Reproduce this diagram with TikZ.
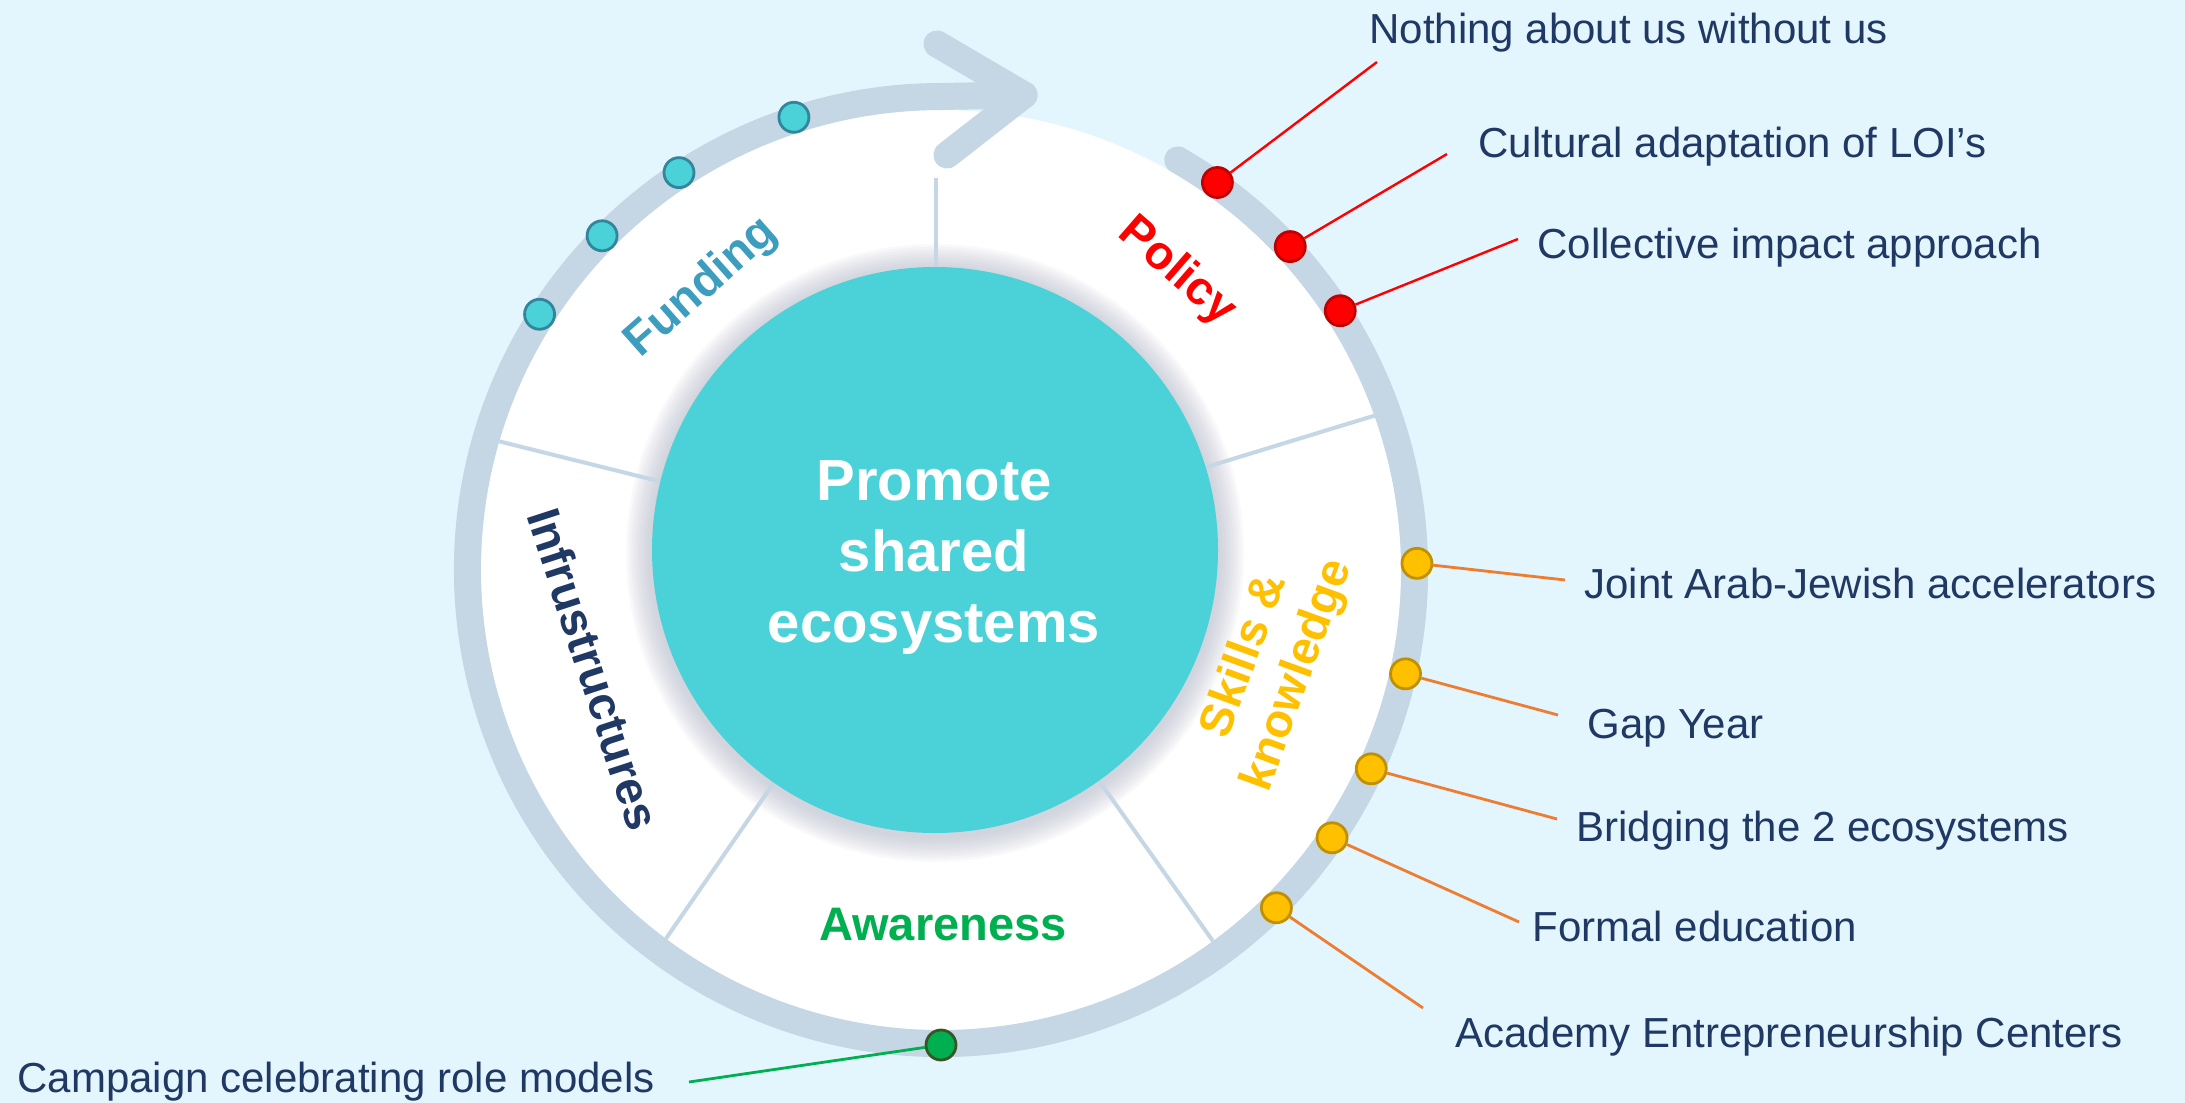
\documentclass[tikz,border=0pt]{standalone}
\usepackage{fontspec}
\setmainfont{Liberation Sans}
\usetikzlibrary{calc}
\definecolor{bgc}{HTML}{E3F5FD}
\definecolor{ringc}{HTML}{C5D6E4}
\definecolor{tealc}{HTML}{4BD2D8}
\definecolor{haloc}{HTML}{B4B9CA}
\definecolor{navy}{HTML}{1F3864}
\definecolor{fundc}{HTML}{3D9DBF}
\definecolor{polc}{HTML}{FF0000}
\definecolor{skc}{HTML}{FFC000}
\definecolor{awc}{HTML}{00B050}
\definecolor{orc}{HTML}{ED7D31}
\definecolor{tealdk}{HTML}{31869B}
\definecolor{reddk}{HTML}{C00000}
\definecolor{yeldk}{HTML}{BF9000}
\definecolor{grndk}{HTML}{375623}
\begin{document}
\begin{tikzpicture}[x=0.5pt,y=0.5pt,
  dotbase/.style={circle,minimum size=15pt,inner sep=0pt,line width=1.4pt},
  fdot/.style={dotbase,fill=tealc,draw=tealdk},
  rdot/.style={dotbase,fill=polc,draw=reddk},
  ydot/.style={dotbase,fill=skc,draw=yeldk},
  gdot/.style={dotbase,fill=awc,draw=grndk},
  lab/.style={anchor=base west,inner sep=0pt,text=navy,font=\fontsize{21}{25}\selectfont},
  seglab/.style={inner sep=0pt,font=\bfseries\fontsize{23.5}{28}\selectfont},
  ctr/.style={anchor=base,inner sep=0pt,text=white,font=\bfseries\fontsize{29}{35}\selectfont},
  divider/.style={draw=ringc,line width=2pt},
  leadr/.style={draw=polc,line width=1.2pt},
  leado/.style={draw=orc,line width=1.4pt},
  leadg/.style={draw=awc,line width=1.4pt},
  band/.style={draw=ringc,line width=13.5pt,line cap=round,line join=round}
]
\fill[bgc] (0,0) rectangle (2185,-1103);
\useasboundingbox (0,0) rectangle (2185,-1103);
\coordinate (R) at (941,-570);
\coordinate (T) at (935,-550);
% white disc
\fill[white] (R) circle (460);
% halo around core
\foreach \k in {1,...,10} \fill[haloc,opacity=0.08] ([yshift=-1.5pt]T) circle ({283+2.6*\k});
% dividers
\begin{scope}
  \clip (R) circle (460);
  \foreach \a in {17,166,235.3,305.4}
    \draw[divider] ([shift={(\a:283)}]T) -- ([shift={(\a:480)}]T);
\end{scope}
\draw[divider] (936,-267) -- (936,-178);
% core
\node[circle,fill=tealc,minimum size=283pt,inner sep=0pt] (core) at (T) {};
% ring arrow
\draw[band] ([shift={(60:473.5)}]R) arc[start angle=60,end angle=-268,radius=473.5] -- (1024,-95);
\draw[band] (937,-44) -- (1024,-95) -- (947,-155);
% centre text
\node[ctr] (c1) at (934,-500) {Promote};
\node[ctr] (c2) at (934,-571) {shared};
\node[ctr] (c3) at (934,-642) {ecosystems};
% segment labels
\node[seglab,text=fundc,rotate=41.5] (sF) at (702,-288) {Funding};
\node[seglab,text=polc,rotate=-41] (sP) at (1177,-272) {Policy};
\node[seglab,text=navy,rotate=-72] (sI) at (594,-669) {Infrustructures};
\node[seglab,text=skc,rotate=70,align=center] (sS) at (1272,-666) {Skills \&\\knowledge};
\node[seglab,text=awc,anchor=base] (sA) at (943,-940) {Awareness};
% dots
\node[fdot] (f1) at ([shift={(108:476)}]R) {};
\node[fdot] (f2) at ([shift={(123.4:476)}]R) {};
\node[fdot] (f3) at ([shift={(135.4:476)}]R) {};
\node[fdot] (f4) at ([shift={(147.5:476)}]R) {};
\node[rdot] (p1) at ([shift={(54.5:476)}]R) {};
\node[rdot] (p2) at ([shift={(42.8:476)}]R) {};
\node[rdot] (p3) at ([shift={(33:476)}]R) {};
\node[ydot] (k1) at ([shift={(0.8:476)}]R) {};
\node[ydot] (k2) at ([shift={(-12.6:476)}]R) {};
\node[ydot] (k3) at ([shift={(-24.8:474)}]R) {};
\node[ydot] (k4) at ([shift={(-34.4:474)}]R) {};
\node[ydot] (k5) at ([shift={(-45.2:476)}]R) {};
\node[gdot] (a1) at ([shift={(-90:475)}]R) {};
% leader ends
\coordinate (ep1) at (1377,-62);
\coordinate (ep2) at (1447,-154);
\coordinate (ep3) at (1518,-239);
\coordinate (ek1) at (1565,-580);
\coordinate (ek2) at (1558,-715);
\coordinate (ek3) at (1557,-819);
\coordinate (ek4) at (1519,-922);
\coordinate (ek5) at (1423,-1008);
\coordinate (ea1) at (689,-1082);
\draw[leadr] (p1) -- (ep1);
\draw[leadr] (p2) -- (ep2);
\draw[leadr] (p3) -- (ep3);
\draw[leado] (k1) -- (ek1);
\draw[leado] (k2) -- (ek2);
\draw[leado] (k3) -- (ek3);
\draw[leado] (k4) -- (ek4);
\draw[leado] (k5) -- (ek5);
\draw[leadg] (a1) -- (ea1);
% labels
\node[lab] (tp1) at (1369,-43) {Nothing about us without us};
\node[lab] (tp2) at (1478,-157) {Cultural adaptation of LOI’s};
\node[lab] (tp3) at (1537,-258) {Collective impact approach};
\node[lab] (tk1) at (1584,-598) {Joint Arab-Jewish accelerators};
\node[lab] (tk2) at (1587,-738) {Gap Year};
\node[lab] (tk3) at (1576,-841) {Bridging the 2 ecosystems};
\node[lab] (tk4) at (1532,-941) {Formal education};
\node[lab] (tk5) at (1455,-1047) {Academy Entrepreneurship Centers};
\node[lab] (ta1) at (17,-1092) {Campaign celebrating role models};
\end{tikzpicture}
\end{document}
